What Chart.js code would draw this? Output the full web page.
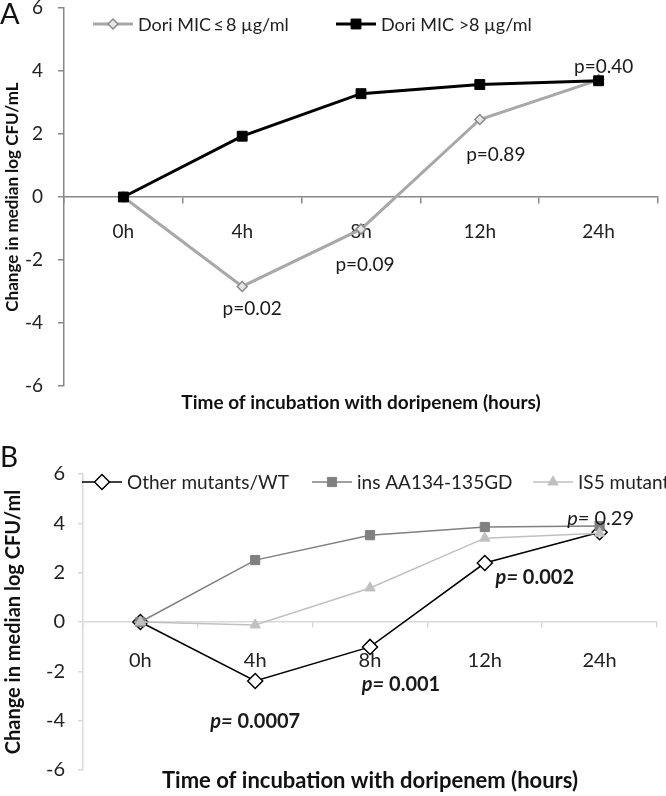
<!DOCTYPE html>
<html lang="en">
  <head>
    <title>Doripenem time-kill curves</title>
    <script src="https://cdn.jsdelivr.net/npm/chart.js"></script>
    <style>
      body { margin: 0; background: #fff; }
      .panel { position: absolute; left: 0; width: 666px; }
    </style>
  </head>
  <body>
    <div class="panel" style="top: 0; height: 420px">
      <canvas id="chartA" width="666" height="420"></canvas>
    </div>
    <div class="panel" style="top: 420px; height: 376px">
      <canvas id="chartB" width="666" height="376"></canvas>
    </div>

    <script>
      // categories and values
      const hours = ["0h", "4h", "8h", "12h", "24h"];
      const yTickValues = [-6, -4, -2, 0, 2, 4, 6];

      // panel A
      const micLow = [0, -2.84, -1.02, 2.46, 3.72];
      const micHigh = [0, 1.93, 3.28, 3.57, 3.69];
      const pValuesA = ["", "p=0.02", "p=0.09", "p=0.89", "p=0.40"];

      // panel B
      const otherWT = [0, -2.39, -1.01, 2.39, 3.64];
      const insAA = [0, 2.51, 3.52, 3.85, 3.89];
      const is5 = [0, -0.12, 1.38, 3.4, 3.6];
      const pValuesB = ["", "p= 0.0007", "p= 0.001", "p= 0.002", "p= 0.29"];
      const pBoldB = [false, true, true, true, false];

      Chart.defaults.font.family = "Lato";
      Chart.defaults.color = "#222";

      function marker(ctx, style, x, y, r, fill, stroke, lw) {
        ctx.beginPath();
        if (style === "rectRot") {
          ctx.moveTo(x - r, y);
          ctx.lineTo(x, y - r);
          ctx.lineTo(x + r, y);
          ctx.lineTo(x, y + r);
          ctx.closePath();
        } else if (style === "rect") {
          const s = r * Math.SQRT1_2;
          ctx.rect(x - s, y - s, 2 * s, 2 * s);
        } else {
          const h = (r * 3) / Math.sqrt(3) / 2;
          ctx.moveTo(x - h, y + r / 2);
          ctx.lineTo(x + h, y + r / 2);
          ctx.lineTo(x, y - r);
          ctx.closePath();
        }
        ctx.fillStyle = fill;
        ctx.fill();
        ctx.lineWidth = lw;
        ctx.strokeStyle = stroke;
        ctx.stroke();
      }

      // panel letter, legend inside the plot, x title and p-value labels
      function decor(cfg) {
        return {
          id: "decor",
          afterDatasetsDraw(chart) {
            const ctx = chart.ctx;
            const xs = chart.scales.x;
            const ys = chart.scales.y;
            const area = chart.chartArea;
            ctx.save();

            ctx.fillStyle = "#111";
            ctx.font = cfg.letterFont;
            ctx.textBaseline = "top";
            ctx.textAlign = "left";
            ctx.fillText(cfg.letter, 0, cfg.letterY);

            // legend
            ctx.font = cfg.legendFont;
            ctx.textBaseline = "middle";
            chart.data.datasets.forEach((ds, i) => {
              const lx = cfg.legendX[i];
              const ly = cfg.legendY;
              ctx.beginPath();
              ctx.moveTo(lx, ly);
              ctx.lineTo(lx + 40, ly);
              ctx.strokeStyle = ds.borderColor;
              ctx.lineWidth = ds.borderWidth;
              ctx.stroke();
              marker(ctx, ds.pointStyle, lx + 20, ly, ds.pointRadius,
                ds.pointBackgroundColor, ds.pointBorderColor, ds.pointBorderWidth);
              ctx.fillStyle = "#222";
              ctx.fillText(ds.label, lx + 45, ly + 1);
            });

            // x axis title
            ctx.font = cfg.titleFont;
            ctx.textAlign = "center";
            ctx.fillStyle = "#111";
            ctx.fillText(cfg.xTitle, (area.left + area.right) / 2, cfg.xTitleY);

            // p-values
            cfg.labels.forEach((txt, i) => {
              if (!txt) return;
              const px = xs.getPixelForValue(i) + cfg.offsets[i][0];
              const py = ys.getPixelForValue(cfg.anchor[i]) + cfg.offsets[i][1];
              ctx.fillStyle = "#1a1a1a";
              if (!cfg.italicP) {
                ctx.font = cfg.pFont;
                ctx.textAlign = "center";
                ctx.fillText(txt, px, py);
                return;
              }
              const bold = cfg.bold[i] ? "bold " : "";
              const head = txt.slice(0, 2);
              const tail = txt.slice(2);
              const fHead = "italic " + bold + cfg.pFont;
              const fTail = bold + cfg.pFont;
              ctx.font = fHead;
              const wHead = ctx.measureText(head).width;
              ctx.font = fTail;
              const wTail = ctx.measureText(tail).width;
              const x0 = px - (wHead + wTail) / 2;
              ctx.textAlign = "left";
              ctx.font = fHead;
              ctx.fillText(head, x0, py);
              ctx.font = fTail;
              ctx.fillText(tail, x0 + wHead, py);
            });
            ctx.restore();
          },
        };
      }

      function scales(o) {
        return {
          x: {
            type: "category",
            position: { y: 0 },
            offset: true,
            afterFit(scale) {
              scale.paddingLeft = 0;
              scale.paddingRight = 0;
            },
            grid: {
              offset: true,
              drawOnChartArea: false,
              color: o.axisColor,
              tickLength: o.tickLen,
              lineWidth: o.axisWidth,
            },
            border: { color: o.axisColor, width: o.axisWidth },
            ticks: { font: { size: o.tickSize }, padding: o.xPad, color: "#222", maxRotation: 0 },
          },
          y: {
            min: -6,
            max: 6,
            afterBuildTicks(scale) {
              scale.ticks = yTickValues.map((v) => ({ value: v }));
            },
            afterFit(scale) {
              scale.width = o.yWidth;
              scale.paddingTop = 0;
              scale.paddingBottom = 0;
            },
            grid: {
              drawOnChartArea: false,
              color: o.axisColor,
              tickLength: o.tickLen,
              lineWidth: o.axisWidth,
            },
            border: { color: o.axisColor, width: o.axisWidth },
            ticks: { font: { size: o.tickSize }, padding: o.yPad, color: "#222" },
            title: {
              display: true,
              text: o.yTitle,
              font: { size: o.titleSize, weight: "bold" },
              color: "#111",
              padding: { top: 2, bottom: 0 },
            },
          },
        };
      }

      new Chart(document.getElementById("chartA"), {
        type: "line",
        data: {
          labels: hours,
          datasets: [
            {
              label: "Dori MIC\u2009\u2264\u20098 \u00b5g/ml",
              data: micLow,
              borderColor: "#a8a8a8",
              borderWidth: 3,
              pointStyle: "rectRot",
              pointRadius: 5,
              pointBackgroundColor: "#e6e6e6",
              pointBorderColor: "#8a8a8a",
              pointBorderWidth: 1.5,
              order: 2,
            },
            {
              label: "Dori MIC >8 \u00b5g/ml",
              data: micHigh,
              borderColor: "#000",
              borderWidth: 3,
              pointStyle: "rect",
              pointRadius: 7,
              pointBackgroundColor: "#000",
              pointBorderColor: "#000",
              pointBorderWidth: 1,
              order: 1,
            },
          ],
        },
        options: {
          responsive: false,
          animation: false,
          events: [],
          layout: { padding: { top: 6, right: 2, bottom: 34, left: 0 } },
          elements: { line: { tension: 0 } },
          plugins: { legend: { display: false }, tooltip: { enabled: false } },
          scales: scales({
            axisColor: "#888",
            axisWidth: 1.5,
            tickLen: 6,
            tickSize: 19,
            xPad: 17,
            yPad: 15,
            yWidth: 64,
            titleSize: 17,
            yTitle: "Change in median log CFU/mL",
          }),
        },
        plugins: [
          decor({
            letter: "A",
            letterY: 0,
            letterFont: "29px Lato",
            legendX: [93, 336],
            legendY: 24,
            legendFont: "18px Lato",
            xTitle: "Time of incubation with doripenem (hours)",
            xTitleY: 403,
            titleFont: "bold 19px Lato",
            labels: pValuesA,
            anchor: micLow,
            offsets: [[0, 0], [10, 22], [4, 36], [16, 35], [5, -13]],
            pFont: "19px Lato",
            italicP: false,
          }),
        ],
      });

      new Chart(document.getElementById("chartB"), {
        type: "line",
        data: {
          labels: hours,
          datasets: [
            {
              label: "Other mutants/WT",
              data: otherWT,
              borderColor: "#000",
              borderWidth: 1.5,
              pointStyle: "rectRot",
              pointRadius: 7.5,
              pointBackgroundColor: "#fff",
              pointBorderColor: "#000",
              pointBorderWidth: 1.5,
              order: 3,
            },
            {
              label: "ins AA134-135GD",
              data: insAA,
              borderColor: "#808080",
              borderWidth: 1.5,
              pointStyle: "rect",
              pointRadius: 6.5,
              pointBackgroundColor: "#808080",
              pointBorderColor: "#808080",
              pointBorderWidth: 1,
              order: 2,
            },
            {
              label: "IS5 mutant",
              data: is5,
              borderColor: "#c0c0c0",
              borderWidth: 1.5,
              pointStyle: "triangle",
              pointRadius: 6,
              pointBackgroundColor: "#c0c0c0",
              pointBorderColor: "#c0c0c0",
              pointBorderWidth: 1,
              order: 1,
            },
          ],
        },
        options: {
          responsive: false,
          animation: false,
          events: [],
          layout: { padding: { top: 54, right: 1, bottom: 26, left: 0 } },
          elements: { line: { tension: 0 } },
          plugins: { legend: { display: false }, tooltip: { enabled: false } },
          scales: scales({
            axisColor: "#d9d9d9",
            axisWidth: 1.5,
            tickLen: 5,
            tickSize: 20,
            xPad: 22,
            yPad: 13,
            yWidth: 83,
            titleSize: 20,
            yTitle: "Change in median log CFU/ml",
          }),
        },
        plugins: [
          decor({
            letter: "B",
            letterY: 24,
            letterFont: "28px Lato",
            legendX: [82, 312, 533],
            legendY: 62,
            legendFont: "19px Lato",
            xTitle: "Time of incubation with doripenem (hours)",
            xTitleY: 361,
            titleFont: "bold 22px Lato",
            labels: pValuesB,
            bold: pBoldB,
            anchor: otherWT,
            offsets: [[0, 0], [0, 41], [31, 38], [50, 15], [1, -14]],
            pFont: "20px Lato",
            italicP: true,
          }),
        ],
      });
    </script>
  </body>
</html>
